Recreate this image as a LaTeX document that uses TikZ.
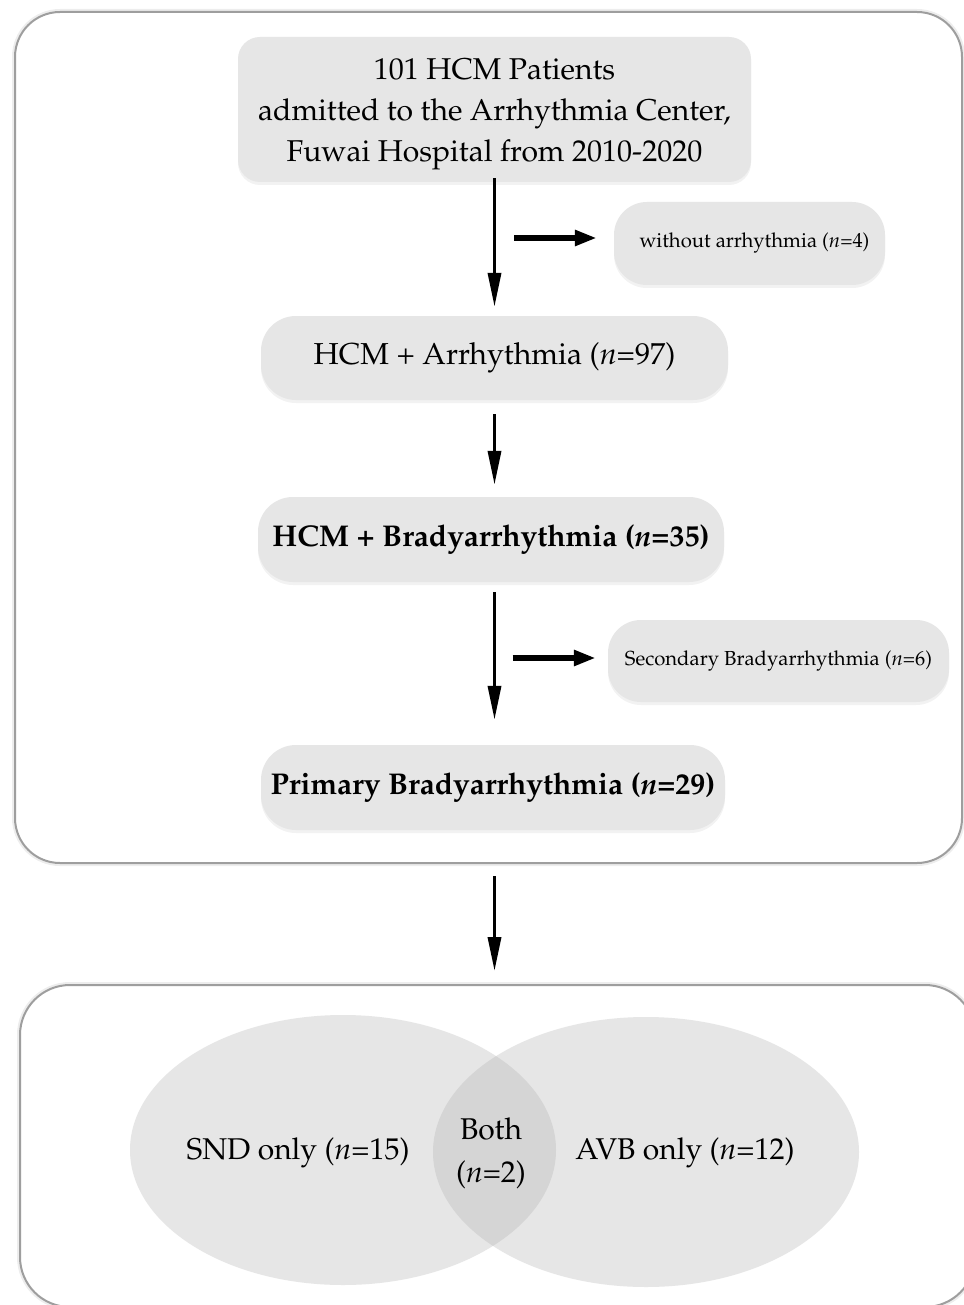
\documentclass[tikz,border=0pt]{standalone}
\usepackage[T1]{fontenc}
\renewcommand{\rmdefault}{ppl}
\usetikzlibrary{arrows.meta,shapes.geometric,shadows,calc}
\definecolor{boxgray}{RGB}{230,230,230}
\definecolor{bothgray}{RGB}{213,213,213}
\definecolor{framegray}{RGB}{158,158,158}
\begin{document}
\begin{tikzpicture}[x=1pt,y=-1pt,
  frame/.style={draw=framegray, line width=2pt, rounded corners=45pt, fill=white,
    preaction={draw=black!7, line width=6pt}},
  boxbase/.style={fill=boxgray, inner sep=0pt, align=center, text=black,
    drop shadow={shadow xshift=0pt, shadow yshift=-3pt, opacity=0.10}},
  bigbox/.style={boxbase, rounded corners=35pt, font=\fontsize{30.3}{41}\selectfont},
  boldbox/.style={boxbase, rounded corners=35pt, font=\fontsize{30}{36}\selectfont\bfseries},
  smallbox/.style={boxbase, rounded corners=33pt, font=\fontsize{20.3}{25}\selectfont},
  plaintext/.style={inner sep=0pt, align=center, font=\fontsize{30.1}{41}\selectfont},
  mainarrow/.style={line width=3.5pt, -{Triangle[length=34pt,width=13pt]}},
  sidearrow/.style={line width=5.5pt, -{Triangle[length=22pt,width=15pt]}},
  vennset/.style={ellipse, fill=boxgray, inner sep=0pt, minimum width=426pt, minimum height=270pt},
  vennlabel/.style={inner sep=0pt, align=center, font=\fontsize{30}{43}\selectfont}]
\useasboundingbox (0,0) rectangle (963,1305);

% frames
\node[frame, minimum width=947pt, minimum height=851pt] (stage1) at (488.5,437.5) {};
\node[frame, rounded corners=50pt, minimum width=955pt, minimum height=322pt] (vennframe) at (497.5,1146) {};

% flow boxes
\node[boxbase, rounded corners=22pt, minimum width=513pt, minimum height=145pt] (top) at (494.5,109.5) {};
\node[plaintext] (toptext) at (494.5,114.5)
  {101 HCM Patients\\admitted to the Arrhythmia Center,\\Fuwai Hospital from 2010-2020};
\node[bigbox, minimum width=467pt, minimum height=84pt] (arr) at (494.5,358)
  {HCM + Arrhythmia (\textit{n}=97)};
\node[boldbox, minimum width=466pt, minimum height=85pt] (brady) at (491,539.5)
  {HCM + Bradyarrhythmia (\textit{n}=35)};
\node[boldbox, minimum width=464pt, minimum height=85pt] (primary) at (493,787.5)
  {Primary Bradyarrhythmia (\textit{n}=29)};
\node[smallbox, minimum width=271pt, minimum height=83pt] (without) at (749.5,243.5)
  {\hspace*{10pt}without arrhythmia (\textit{n}=4)};
\node[smallbox, minimum width=341pt, minimum height=82pt] (secondary) at (778.5,661)
  {Secondary Bradyarrhythmia (\textit{n}=6)};

% main arrows
\draw[mainarrow, shorten <=-4pt, shorten >=9pt] (top.south) -- (top.south |- arr.north);
\draw[mainarrow, shorten <=14pt, shorten >=12pt] (top.south |- arr.south) -- (top.south |- brady.north);
\draw[mainarrow, shorten <=10pt, shorten >=25pt] (top.south |- brady.south) -- (top.south |- primary.north);
\draw[mainarrow, shorten <=12pt, shorten >=13pt] (top.south |- stage1.south) -- (top.south |- vennframe.north);

% side arrows
\coordinate (s1) at ($(top.south |- without.west)+(19.5pt,5.5pt)$);
\draw[sidearrow, shorten >=17pt] (s1) -- (s1 -| without.west);
\coordinate (s2) at ($(top.south |- secondary.west)+(18pt,3pt)$);
\draw[sidearrow, shorten >=12pt] (s2) -- (s2 -| secondary.west);

% venn
\node[vennset] (snd) at (343,1150) {};
\node[vennset] (avb) at (646,1152) {};
\begin{scope}
  \clip (343,1150) ellipse [x radius=213, y radius=135];
  \fill[bothgray] (646,1152) ellipse [x radius=213, y radius=135];
\end{scope}
\node[vennlabel] (sndlabel) at (298,1153) {SND only (\textit{n}=15)};
\node[vennlabel] (bothlabel) at (491,1153) {Both\\(\textit{n}=2)};
\node[vennlabel] (avblabel) at (685,1153) {AVB only (\textit{n}=12)};
\end{tikzpicture}
\end{document}
